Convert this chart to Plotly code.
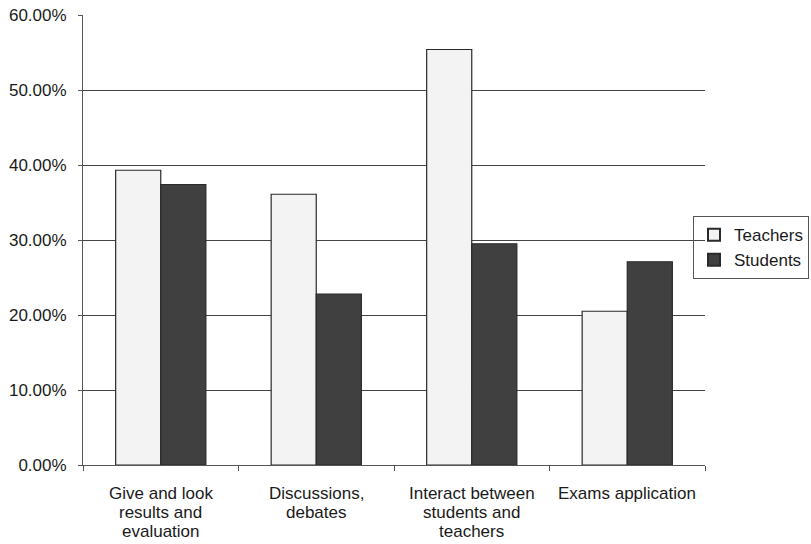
import plotly.graph_objects as go

# Survey shares (percent) per activity
categories = [
    "Give and look<br>results and<br>evaluation",
    "Discussions,<br>debates",
    "Interact between<br>students and<br>teachers",
    "Exams application",
]
teachers = [39.3, 36.1, 55.4, 20.5]
students = [37.4, 22.8, 29.5, 27.1]
y_ticks = [0, 10, 20, 30, 40, 50, 60]

font_family = "Liberation Sans, Arial, sans-serif"
text_color = "#1a1a1a"
axis_color = "#555555"

fig = go.Figure()
fig.add_trace(go.Bar(
    name="Teachers", x=categories, y=teachers,
    marker=dict(color="#f2f3f2", line=dict(color="#2a2a2a", width=1.2)),
))
fig.add_trace(go.Bar(
    name="Students", x=categories, y=students,
    marker=dict(color="#404040", line=dict(color="#2a2a2a", width=1.2)),
))

# Category labels: one annotation per text line for a compact line pitch
line_pitch = 19
for cat in categories:
    for i, line in enumerate(cat.split("<br>")):
        fig.add_annotation(
            x=cat, xref="x", y=0, yref="paper",
            text=line, showarrow=False,
            xanchor="center", yanchor="top",
            yshift=-17 - i * line_pitch,
            font=dict(family=font_family, size=17, color=text_color),
        )

fig.update_layout(
    width=811, height=544,
    margin=dict(l=83, r=106, t=15, b=79, autoexpand=False),
    paper_bgcolor="white", plot_bgcolor="white",
    barmode="group", bargap=0.42, bargroupgap=0,
    font=dict(family=font_family, size=17, color=text_color),
    showlegend=True,
    legend=dict(
        x=1.1672, xanchor="right", y=0.553, yanchor="top",
        bgcolor="rgba(255,255,255,0)", bordercolor=axis_color, borderwidth=1,
        font=dict(size=17, color=text_color),
        tracegroupgap=0, itemsizing="constant",
    ),
)

fig.update_xaxes(
    type="category",
    showline=True, linecolor=axis_color, linewidth=1,
    ticks="outside", ticklen=5, tickcolor=axis_color,
    tickson="boundaries",
    showgrid=False,
    showticklabels=False,
)
fig.update_yaxes(
    range=[0, 60], tickvals=y_ticks,
    ticktext=[f"{v:.2f}%" for v in y_ticks],
    showline=True, linecolor=axis_color, linewidth=1,
    ticks="outside", ticklen=4, tickcolor=axis_color,
    ticklabelstandoff=8,
    showgrid=True, gridcolor="#444444", gridwidth=1,
    zeroline=False,
    tickfont=dict(size=17),
)

fig.write_html("out.html")
